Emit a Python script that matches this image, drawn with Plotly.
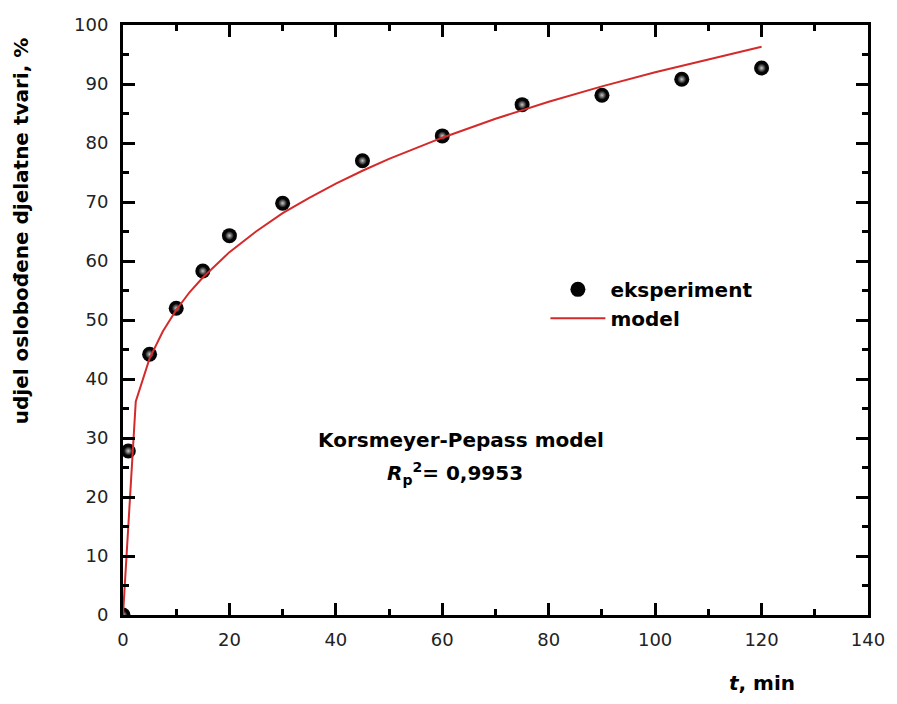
import plotly.graph_objects as go

# Experimental release data
t_exp = [0, 1, 5, 10, 15, 20, 30, 45, 60, 75, 90, 105, 120]
release_exp = [0, 27.8, 44.2, 52.0, 58.3, 64.3, 69.8, 77.0, 81.2, 86.5, 88.1, 90.8, 92.7]

# Korsmeyer-Peppas model curve
t_model = [0, 2.4, 5, 7.5, 10, 12.5, 15, 20, 25, 30, 35, 40, 45, 50, 60, 70, 80, 90, 100, 110, 120]
release_model = [0, 36.2, 43.5, 48.1, 51.7, 54.7, 57.2, 61.5, 65.0, 68.1, 70.7, 73.1, 75.3,
                 77.3, 80.9, 84.1, 87.0, 89.6, 92.0, 94.2, 96.3]

x_ticks = [0, 20, 40, 60, 80, 100, 120, 140]
y_ticks = [0, 10, 20, 30, 40, 50, 60, 70, 80, 90, 100]

FONT = "DejaVu Sans"

fig = go.Figure()

# black balls
fig.add_trace(go.Scatter(
    x=t_exp, y=release_exp, mode="markers", name="<b>eksperiment</b>",
    legendgroup="exp",
    marker=dict(size=15, color="#050505", line=dict(width=0)),
))
# soft highlight on each ball
fig.add_trace(go.Scatter(
    x=t_exp, y=release_exp, mode="markers", showlegend=False,
    legendgroup="exp", hoverinfo="skip",
    marker=dict(size=9, color="#050505",
                gradient=dict(type="radial", color="#c8c8c8"),
                line=dict(width=0)),
))

fig.add_trace(go.Scatter(
    x=t_model, y=release_model, mode="lines", name="<b>model</b>",
    line=dict(color="#d42a2a", width=2),
))

axis_common = dict(
    showline=True, linecolor="black", linewidth=3,
    mirror="allticks", ticks="inside", ticklen=12, tickwidth=2.5,
    tickcolor="black", showgrid=False, zeroline=False,
    tickfont=dict(family=FONT, size=18, color="#222"),
)

fig.update_xaxes(
    range=[0, 140], tickvals=x_ticks, ticklabelstandoff=6,
    minor=dict(ticks="inside", ticklen=6, tickwidth=2.5, dtick=10, tick0=0, tickcolor="black"),
    **axis_common,
)
fig.update_yaxes(
    range=[0, 100], tickvals=y_ticks, ticklabelstandoff=8,
    minor=dict(ticks="inside", ticklen=6, tickwidth=2.5, dtick=5, tick0=0, tickcolor="black"),
    **axis_common,
)

fig.add_annotation(
    text="<b>udjel oslobođene djelatne tvari, %</b>", textangle=-90,
    xref="paper", yref="paper", x=-0.137, y=0.652, showarrow=False,
    xanchor="center", yanchor="middle",
    font=dict(family=FONT, size=20, color="black"),
)
fig.add_annotation(
    text="<b><i>t</i>, min</b>",
    xref="paper", yref="paper", x=0.858, y=-0.115, showarrow=False,
    xanchor="center", yanchor="middle",
    font=dict(family=FONT, size=20, color="black"),
)
fig.add_annotation(
    text="<b>Korsmeyer-Pepass model</b>",
    x=63.5, y=29.7, showarrow=False, xanchor="center", yanchor="middle",
    font=dict(family=FONT, size=20, color="black"),
)
fig.add_annotation(
    text="<b><i>R</i><sub>p</sub><sup>2</sup>= 0,9953</b>",
    x=62.3, y=23.9, showarrow=False, xanchor="center", yanchor="middle",
    font=dict(family=FONT, size=20, color="black"),
)

fig.update_layout(
    width=897, height=704,
    margin=dict(l=123, r=24, t=25, b=89),
    paper_bgcolor="white", plot_bgcolor="white",
    showlegend=True,
    legend=dict(x=0.567, y=0.585, xanchor="left", yanchor="top",
                bgcolor="rgba(0,0,0,0)", tracegroupgap=0, itemwidth=55,
                font=dict(family=FONT, size=20, color="black")),
)

fig.write_html("out.html")
